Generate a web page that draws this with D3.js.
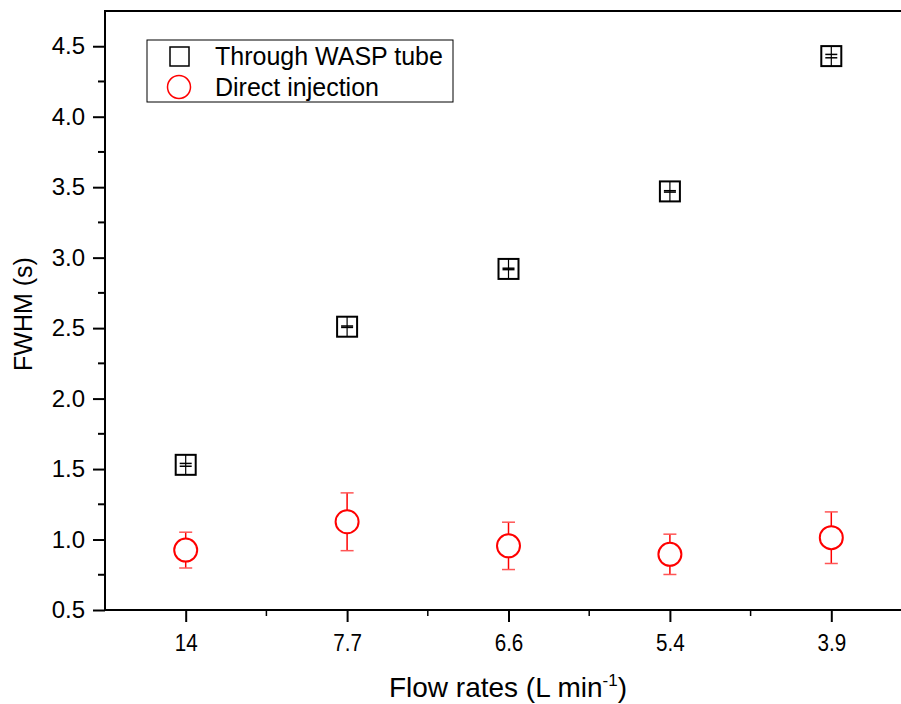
<!DOCTYPE html>
<html>
<head>
<meta charset="utf-8">
<script src="https://cdn.jsdelivr.net/npm/d3@7"></script>
<style>
  body { margin: 0; background: #fff; }
  svg { display: block; font-family: "Liberation Sans", Arial, sans-serif; }
</style>
</head>
<body>
<svg width="901" height="704"></svg>
<script>
// categories (flow rates, L/min)
var flowRates = ["14", "7.7", "6.6", "5.4", "3.9"];
// through WASP tube
var waspFwhm = [1.53, 2.51, 2.92, 3.47, 4.43];
var waspErr = [0.01, 0.005, 0.005, 0.005, 0.012];
// direct injection
var directFwhm = [0.925, 1.126, 0.955, 0.895, 1.013];
var directErr = [0.127, 0.205, 0.168, 0.143, 0.183];
var yTicks = [0.5, 1.0, 1.5, 2.0, 2.5, 3.0, 3.5, 4.0, 4.5];

var svg = d3.select("svg");
var plotLeft = 105, plotRight = 912, plotTop = 11, plotBottom = 610;

var x = d3.scaleLinear().domain([0.5, 5.5]).range([plotLeft, plotRight]);
var y = d3.scaleLinear().domain([0.5, 4.75]).range([plotBottom, plotTop]);

// frame
svg.append("rect")
    .attr("x", plotLeft).attr("y", plotTop)
    .attr("width", plotRight - plotLeft).attr("height", plotBottom - plotTop)
    .attr("fill", "none").attr("stroke", "#000").attr("stroke-width", 2);

// y axis
var yAxis = d3.axisLeft(y).tickValues(yTicks).tickSize(12).tickPadding(8)
    .tickFormat(d3.format(".1f"));
var gy = svg.append("g").attr("transform", "translate(" + plotLeft + ",0)").call(yAxis);
gy.attr("font-size", 24).attr("font-family", null);
gy.select(".domain").remove();
gy.selectAll(".tick line").attr("stroke-width", 2);

var yMinor = d3.range(0.75, 4.75, 0.5);
svg.append("g").selectAll("line").data(yMinor).join("line")
    .attr("x1", plotLeft - 7).attr("x2", plotLeft)
    .attr("y1", function(d) { return y(d); }).attr("y2", function(d) { return y(d); })
    .attr("stroke", "#000").attr("stroke-width", 2);

// x axis
var xAxis = d3.axisBottom(x).tickValues([1, 2, 3, 4, 5]).tickSize(12).tickPadding(12)
    .tickFormat(function(d) { return flowRates[d - 1]; });
var gx = svg.append("g").attr("transform", "translate(0," + plotBottom + ")").call(xAxis);
gx.attr("font-size", 24).attr("font-family", null);
gx.select(".domain").remove();
gx.selectAll(".tick line").attr("stroke-width", 2);
gx.selectAll(".tick text").attr("transform", "scale(0.86,1)");

svg.append("g").selectAll("line").data([1.5, 2.5, 3.5, 4.5]).join("line")
    .attr("x1", function(d) { return x(d); }).attr("x2", function(d) { return x(d); })
    .attr("y1", plotBottom).attr("y2", plotBottom + 6)
    .attr("stroke", "#000").attr("stroke-width", 1.5);

// axis titles
svg.append("text")
    .attr("transform", "translate(32," + y(2.6) + ") rotate(-90)")
    .attr("text-anchor", "middle").attr("font-size", 25)
    .text("FWHM (s)");

var xt = svg.append("text")
    .attr("x", 508).attr("y", 697)
    .attr("text-anchor", "middle").attr("font-size", 28);
xt.append("tspan").text("Flow rates (L min");
xt.append("tspan").attr("dy", -11).attr("font-size", 17).text("-1");
xt.append("tspan").attr("dy", 11).text(")");

// WASP tube squares with error bars
var sq = svg.append("g").selectAll("g").data(waspFwhm).join("g")
    .attr("transform", function(d, i) { return "translate(" + x(i + 1) + "," + y(d) + ")"; });
sq.append("rect")
    .attr("x", -10).attr("y", -10).attr("width", 20).attr("height", 20)
    .attr("fill", "none").attr("stroke", "#000").attr("stroke-width", 2);
sq.append("line")
    .attr("x1", 0).attr("x2", 0).attr("y1", -10).attr("y2", 10)
    .attr("stroke", "#000").attr("stroke-width", 1.2);
sq.each(function(d, i) {
    var g = d3.select(this);
    [d + waspErr[i], d - waspErr[i]].forEach(function(v) {
        g.append("line")
            .attr("x1", -6).attr("x2", 6)
            .attr("y1", y(v) - y(d)).attr("y2", y(v) - y(d))
            .attr("stroke", "#000").attr("stroke-width", 1.5);
    });
});

// direct injection circles with error bars
var ci = svg.append("g").selectAll("g").data(directFwhm).join("g")
    .attr("transform", function(d, i) { return "translate(" + x(i + 1) + ",0)"; });
ci.append("line")
    .attr("x1", 0).attr("x2", 0)
    .attr("y1", function(d, i) { return y(d + directErr[i]); })
    .attr("y2", function(d, i) { return y(d - directErr[i]); })
    .attr("stroke", "#f00").attr("stroke-width", 1.5);
ci.each(function(d, i) {
    var g = d3.select(this);
    [d + directErr[i], d - directErr[i]].forEach(function(v) {
        g.append("line")
            .attr("x1", -6.5).attr("x2", 6.5)
            .attr("y1", y(v)).attr("y2", y(v))
            .attr("stroke", "#f55").attr("stroke-width", 1.5);
    });
});
ci.append("circle")
    .attr("cy", function(d) { return y(d); }).attr("r", 11.5)
    .attr("fill", "#fff").attr("stroke", "#f00").attr("stroke-width", 2);

// legend
var lg = svg.append("g");
lg.append("rect")
    .attr("x", 147).attr("y", 40).attr("width", 306).attr("height", 62)
    .attr("fill", "#fff").attr("stroke", "#000").attr("stroke-width", 1);
lg.append("rect")
    .attr("x", 170).attr("y", 47).attr("width", 19).attr("height", 19)
    .attr("fill", "none").attr("stroke", "#000").attr("stroke-width", 1.5);
lg.append("circle")
    .attr("cx", 179).attr("cy", 87).attr("r", 11.5)
    .attr("fill", "none").attr("stroke", "#f00").attr("stroke-width", 1.5);
lg.append("text").attr("x", 215).attr("y", 65).attr("font-size", 25).text("Through WASP tube");
lg.append("text").attr("x", 215).attr("y", 96).attr("font-size", 25).text("Direct injection");
</script>
</body>
</html>
